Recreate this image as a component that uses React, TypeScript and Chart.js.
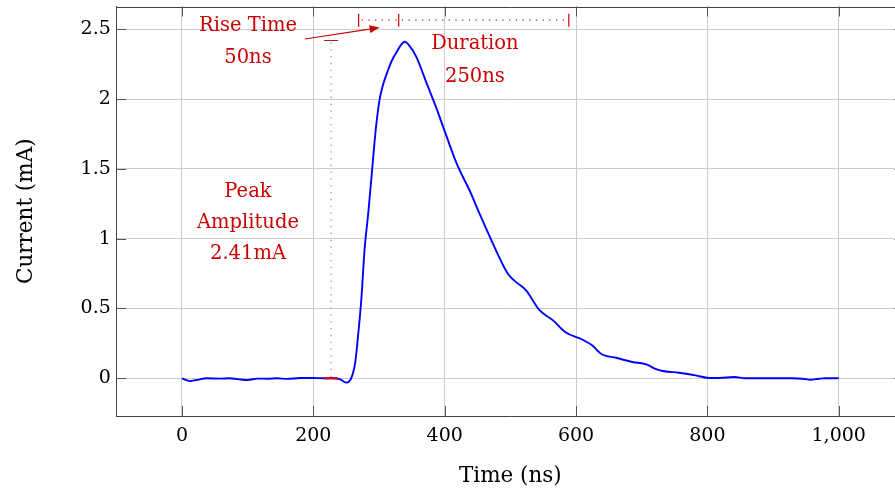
import React, { useEffect, useRef } from "react";
import { Chart, registerables } from "chart.js";

Chart.register(...registerables);

// ---- data ----
const timeNs = [0, 12, 22, 38, 58, 72, 85, 100, 115, 130, 145, 160, 180, 200, 215, 230, 240, 250, 255, 260, 264, 268, 273, 278, 284, 290, 295, 301, 306, 314, 320, 326, 333, 339, 345, 357, 372, 387, 400, 419, 438, 453, 471, 496, 506, 524, 544, 565, 584, 610, 625, 638, 661, 686, 707, 720, 732, 757, 782, 803, 818, 841, 858, 929, 945, 957, 970, 980, 1000];
const currentMA = [0, -0.02, -0.012, 0, -0.002, 0, -0.006, -0.012, -0.002, -0.003, 0, -0.004, 0.002, 0.002, 0, 0, -0.006, -0.031, -0.02, 0.03, 0.12, 0.3, 0.56, 0.92, 1.2, 1.52, 1.78, 2.0, 2.1, 2.21, 2.28, 2.33, 2.385, 2.41, 2.39, 2.3, 2.12, 1.94, 1.77, 1.53, 1.345, 1.18, 0.99, 0.75, 0.7, 0.63, 0.49, 0.415, 0.33, 0.276, 0.235, 0.176, 0.147, 0.117, 0.1, 0.07, 0.052, 0.04, 0.021, 0.002, 0.002, 0.009, 0, 0, -0.003, -0.01, -0.003, 0, 0];

const xTickValues = [0, 200, 400, 600, 800, 1000];
const yTickValues = [0, 0.5, 1, 1.5, 2, 2.5];
const xLimits = [-100, 1100];
const yLimits = [-0.27, 2.663];

// ---- annotation values (data units) ----
const bracketNs = [269, 330, 589];
const bracketLevelMA = 2.565;
const peakMarkerNs = 227;
const peakMarkerTopMA = 2.42;
const arrowFrom = [187, 2.43];
const arrowTo = [301, 2.512];
const annotationTexts = ["Rise Time", "50ns", "Duration", "250ns", "Peak", "Amplitude", "2.41mA"];
const annotationXNs = [100.5, 100.5, 446, 446, 100.5, 100.5, 100.5];
const annotationBaselineMA = [2.488, 2.261, 2.357, 2.125, 1.301, 1.077, 0.852];

const FONT = "'DejaVu Serif', serif";
const RED = "#cc0000";
const GRID = "#cccccc";

const frameAndAnnotations = {
  id: "frameAndAnnotations",
  afterDatasetsDraw(chart: any) {
    const { ctx, chartArea: a, scales } = chart;
    const xs = scales.x;
    const ys = scales.y;
    const X = (v: number) => xs.getPixelForValue(v);
    const Y = (v: number) => ys.getPixelForValue(v);
    ctx.save();

    // top frame line
    ctx.strokeStyle = "#444";
    ctx.lineWidth = 1;
    ctx.beginPath();
    const ty = Math.round(a.top) + 0.5;
    ctx.moveTo(a.left, ty);
    ctx.lineTo(a.right, ty);
    ctx.stroke();

    // inward tick marks
    const tl = 10;
    ctx.strokeStyle = "#555";
    ctx.beginPath();
    xTickValues.forEach((v) => {
      const px = Math.round(X(v)) + 0.5;
      ctx.moveTo(px, a.bottom);
      ctx.lineTo(px, a.bottom - tl);
      ctx.moveTo(px, a.top);
      ctx.lineTo(px, a.top + tl);
    });
    yTickValues.forEach((v) => {
      const py = Math.round(Y(v)) + 0.5;
      ctx.moveTo(a.left, py);
      ctx.lineTo(a.left + tl, py);
      ctx.moveTo(a.right, py);
      ctx.lineTo(a.right - tl, py);
    });
    ctx.stroke();

    // peak amplitude marker: dotted vertical line
    const mx = X(peakMarkerNs);
    ctx.strokeStyle = "rgba(225,60,60,0.75)";
    ctx.lineWidth = 1.2;
    ctx.setLineDash([1.3, 5.5]);
    ctx.beginPath();
    ctx.moveTo(mx, Y(peakMarkerTopMA) + 2);
    ctx.lineTo(mx, Y(0));
    ctx.stroke();
    ctx.setLineDash([]);
    ctx.strokeStyle = "rgb(150,40,40)";
    ctx.lineWidth = 1;
    ctx.beginPath();
    ctx.moveTo(mx - 7, Math.round(Y(peakMarkerTopMA)) + 0.5);
    ctx.lineTo(mx + 7, Math.round(Y(peakMarkerTopMA)) + 0.5);
    ctx.stroke();
    ctx.strokeStyle = "#e00000";
    ctx.lineWidth = 2;
    ctx.beginPath();
    ctx.moveTo(mx - 7, Y(0));
    ctx.lineTo(mx + 7, Y(0));
    ctx.stroke();

    // bracket dotted line
    const by = Y(bracketLevelMA);
    ctx.strokeStyle = "rgb(170,45,45)";
    ctx.lineWidth = 1.2;
    ctx.setLineDash([1.3, 5.4]);
    ctx.beginPath();
    ctx.moveTo(X(bracketNs[0]) + 3, by);
    ctx.lineTo(X(bracketNs[2]), by);
    ctx.stroke();
    ctx.setLineDash([]);
    ctx.strokeStyle = RED;
    ctx.lineWidth = 1.2;
    ctx.beginPath();
    bracketNs.forEach((v) => {
      const px = X(v);
      ctx.moveTo(px, by - 6.5);
      ctx.lineTo(px, by + 6.5);
    });
    ctx.stroke();

    // arrow
    const x0 = X(arrowFrom[0]), y0 = Y(arrowFrom[1]);
    const x1 = X(arrowTo[0]), y1 = Y(arrowTo[1]);
    const ang = Math.atan2(y1 - y0, x1 - x0);
    const hl = 10, hw = 4;
    ctx.strokeStyle = RED;
    ctx.fillStyle = RED;
    ctx.lineWidth = 1.2;
    ctx.beginPath();
    ctx.moveTo(x0, y0);
    ctx.lineTo(x1 - hl * Math.cos(ang), y1 - hl * Math.sin(ang));
    ctx.stroke();
    ctx.beginPath();
    ctx.moveTo(x1, y1);
    ctx.lineTo(x1 - hl * Math.cos(ang) + hw * Math.sin(ang), y1 - hl * Math.sin(ang) - hw * Math.cos(ang));
    ctx.lineTo(x1 - hl * Math.cos(ang) - hw * Math.sin(ang), y1 - hl * Math.sin(ang) + hw * Math.cos(ang));
    ctx.closePath();
    ctx.fill();

    // texts
    ctx.font = `19.5px ${FONT}`;
    ctx.textAlign = "center";
    ctx.textBaseline = "alphabetic";
    ctx.fillStyle = RED;
    annotationTexts.forEach((t, i) => {
      ctx.fillText(t, X(annotationXNs[i]), Y(annotationBaselineMA[i]));
    });

    ctx.restore();
  },
};

export default function App() {
  const ref = useRef<HTMLCanvasElement | null>(null);

  useEffect(() => {
    if (!ref.current) return;
    const points = timeNs.map((t, i) => ({ x: t, y: currentMA[i] }));
    const chart = new Chart(ref.current, {
      type: "line",
      data: {
        datasets: [
          {
            data: points,
            borderColor: "#0000ff",
            borderWidth: 1.9,
            pointRadius: 0,
            cubicInterpolationMode: "monotone",
            fill: false,
          },
        ],
      },
      options: {
        responsive: false,
        animation: false,
        devicePixelRatio: 1,
        layout: { padding: { top: 6.5, right: 5.6, bottom: 0, left: 0 } },
        plugins: { legend: { display: false }, tooltip: { enabled: false } },
        scales: {
          x: {
            type: "linear",
            min: xLimits[0],
            max: xLimits[1],
            afterBuildTicks: (s: any) => {
              s.ticks = xTickValues.map((v) => ({ value: v }));
            },
            afterFit: (s: any) => {
              s.height = 76;
              s.paddingLeft = 0;
              s.paddingRight = 0;
            },
            grid: { color: GRID, lineWidth: 1, drawTicks: false },
            border: { display: true, color: "#444", width: 1 },
            ticks: {
              padding: 9,
              color: "#000",
              font: { family: FONT, size: 19 },
              callback: (v: any) => Number(v).toLocaleString("en-US"),
            },
            title: {
              display: true,
              text: "Time (ns)",
              color: "#000",
              font: { family: FONT, size: 21.5 },
              padding: { top: 0, bottom: 2.6 },
            },
          },
          y: {
            type: "linear",
            min: yLimits[0],
            max: yLimits[1],
            afterBuildTicks: (s: any) => {
              s.ticks = yTickValues.map((v) => ({ value: v }));
            },
            afterFit: (s: any) => {
              s.width = 116.3;
              s.paddingTop = 0;
              s.paddingBottom = 0;
            },
            grid: { color: GRID, lineWidth: 1, drawTicks: false },
            border: { display: true, color: "#444", width: 1 },
            ticks: {
              padding: 5.5,
              color: "#000",
              font: { family: FONT, size: 19 },
              callback: (v: any) => String(v),
            },
            title: {
              display: true,
              text: "Current (mA)",
              color: "#000",
              font: { family: FONT, size: 21.5 },
              padding: { top: 14, bottom: 0 },
            },
          },
        },
      },
      plugins: [frameAndAnnotations],
    });
    return () => chart.destroy();
  }, []);

  return (
    <div
      style={{
        position: "fixed",
        left: 0,
        top: 0,
        width: 895,
        height: 492,
        overflow: "hidden",
        background: "#fff",
      }}
    >
      <canvas ref={ref} width={910} height={492} style={{ display: "block" }} />
    </div>
  );
}
